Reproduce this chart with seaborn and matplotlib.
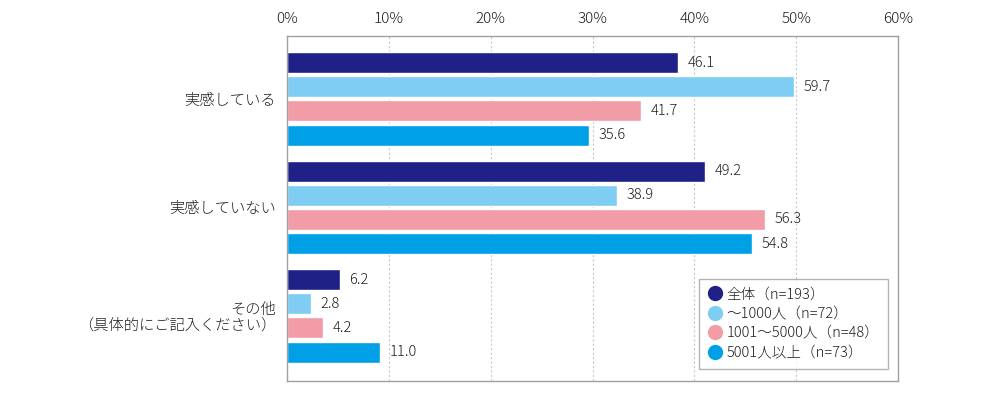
import matplotlib
matplotlib.use("Agg")
import matplotlib.pyplot as plt
import seaborn as sns
import pandas as pd
from matplotlib.lines import Line2D

categories = ["実感している", "実感していない", "その他\n（具体的にご記入ください）"]
series = ["全体（n=193）", "〜1000人（n=72）", "1001〜5000人（n=48）", "5001人以上（n=73）"]
values_all = [46.1, 49.2, 6.2]
values_small = [59.7, 38.9, 2.8]
values_mid = [41.7, 56.3, 4.2]
values_large = [35.6, 54.8, 11.0]
colors = ["#1f2187", "#7fcdf2", "#f19ca7", "#00a0e6"]
tick_positions = [0, 12, 24, 36, 48, 60, 72]
tick_labels = ["0%", "10%", "20%", "30%", "40%", "50%", "60%"]

sns.set_theme(style="white")
plt.rcParams["font.family"] = ["Noto Sans CJK JP", "DejaVu Sans"]
plt.rcParams["font.weight"] = "light"
text_color = "#1e1e1e"

rows = []
for s, vals in zip(series, [values_all, values_small, values_mid, values_large]):
    for c, v in zip(categories, vals):
        rows.append({"category": c, "series": s, "value": v})
df = pd.DataFrame(rows)

fig = plt.figure(figsize=(10, 4), dpi=100)
ax = fig.add_axes([0.287, 0.0475, 0.611, 0.8625])

sns.barplot(data=df, y="category", x="value", hue="series", order=categories,
            hue_order=series, palette=colors, orient="h", width=0.89, gap=0.13,
            ax=ax, legend=False, saturation=1, errorbar=None)

for cont in ax.containers:
    ax.bar_label(cont, fmt="%.1f", padding=7, fontsize=10.5, color=text_color)

ax.set_xlim(0, 72)
ax.set_ylim(2.6, -0.58)
ax.set_xticks(tick_positions)
ax.set_xticklabels(tick_labels)
ax.xaxis.tick_top()
ax.tick_params(axis="x", length=0, pad=7, labelsize=11, colors=text_color)
ax.tick_params(axis="y", length=0, pad=8, labelsize=11, colors=text_color)
for lbl in ax.get_yticklabels():
    lbl.set_multialignment("right")
    lbl.set_linespacing(1.1)
ax.set_xlabel("")
ax.set_ylabel("")
ax.grid(axis="x", linestyle=(0, (2, 2)), color="#c8c8c8", linewidth=0.8)
ax.set_axisbelow(True)
for sp in ax.spines.values():
    sp.set_color("#a0a0a0")
    sp.set_linewidth(1.0)

handles = [Line2D([0], [0], marker="o", linestyle="", markersize=10,
                  markerfacecolor=c, markeredgecolor=c) for c in colors]
leg = ax.legend(handles, series, loc="lower right", bbox_to_anchor=(0.984, 0.035),
                frameon=True, fancybox=False, fontsize=10.5, handletextpad=0.3,
                labelspacing=0.38, borderpad=0.6, handlelength=1.0, borderaxespad=0)
leg.get_frame().set_edgecolor("#a0a0a0")
leg.get_frame().set_linewidth(1.0)
for t in leg.get_texts():
    t.set_color(text_color)

fig.savefig("out.png", dpi=100)
